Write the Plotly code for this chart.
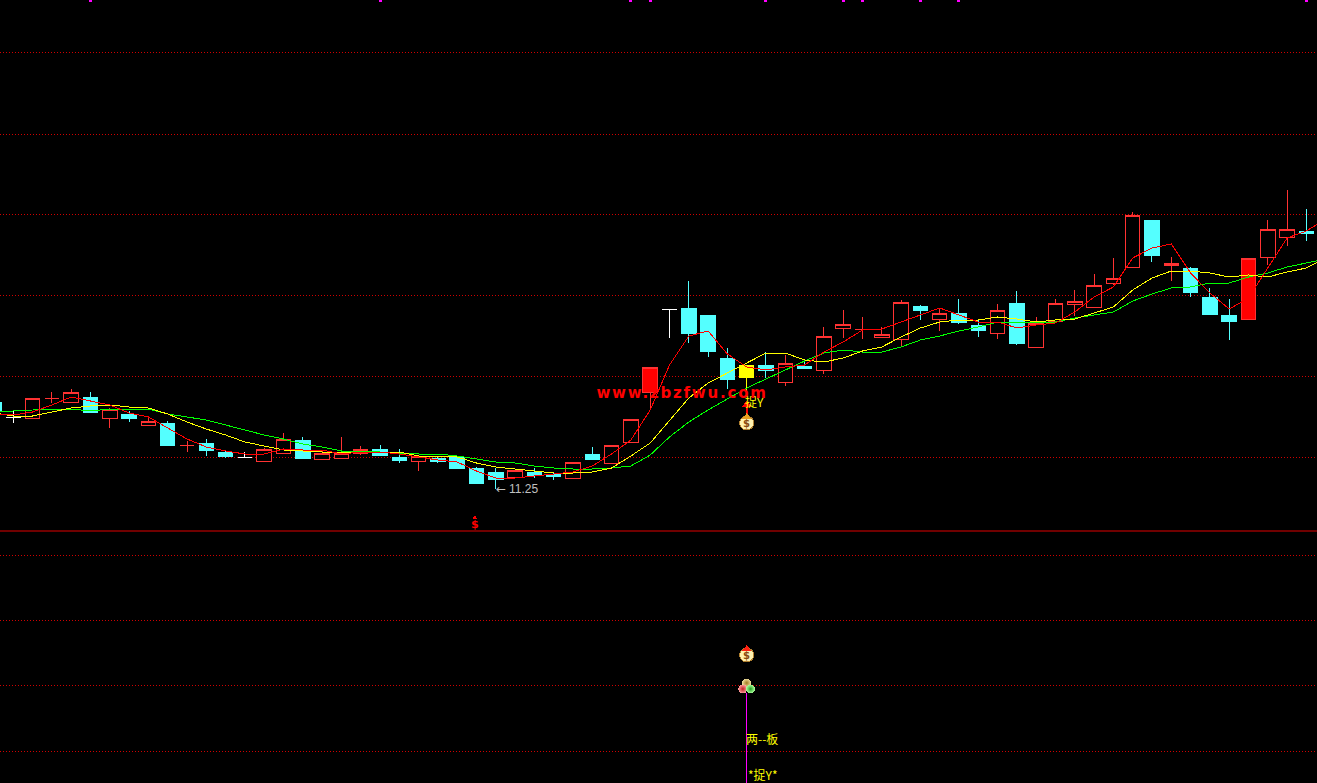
import plotly.graph_objects as go

opens = [12.99,12.69,12.67,13.07,12.99,13.09,12.67,12.75,12.53,12.57,
         12.13,12.17,11.99,11.89,11.81,11.97,12.23,11.85,11.87,11.97,
         12.05,11.89,11.81,11.87,11.89,11.67,11.59,11.49,11.59,11.55,
         11.47,11.95,11.77,12.19,13.19,14.85,14.87,14.73,13.87,13.73,
         13.73,13.39,13.71,13.63,14.47,14.45,14.29,14.25,14.91,14.65,
         14.77,14.53,14.37,14.97,14.09,14.61,14.95,14.89,15.37,15.69,
         16.63,15.73,15.67,15.09,14.73,14.65,15.89,16.29,16.41]
closes = [12.83,12.69,13.07,13.07,13.19,12.79,12.85,12.67,12.61,12.13,
          12.13,12.03,11.91,11.89,12.05,12.25,11.87,11.97,11.97,12.05,
          11.93,11.83,11.91,11.81,11.67,11.37,11.45,11.63,11.53,11.51,
          11.79,11.85,12.13,12.65,13.69,14.85,14.37,14.01,13.45,13.49,
          13.63,13.77,13.67,14.31,14.55,14.45,14.35,14.99,14.83,14.77,
          14.59,14.43,14.83,14.17,14.57,14.97,15.01,15.33,15.47,16.73,
          15.93,15.77,15.19,14.75,14.61,15.87,16.45,16.45,16.37]
highs = [12.99,12.81,13.07,13.19,13.25,13.19,12.87,12.81,12.69,12.61,
         12.21,12.25,12.03,11.99,12.07,12.37,12.29,12.03,12.29,12.11,
         12.13,12.05,11.93,11.91,11.91,11.69,11.67,11.65,11.67,11.59,
         11.79,12.09,12.13,12.65,13.69,14.85,15.41,14.73,14.07,13.73,
         13.99,13.93,13.85,14.49,14.83,14.69,14.49,15.03,14.93,14.87,
         15.05,14.65,14.95,15.21,14.69,15.05,15.23,15.55,15.87,16.79,
         16.63,15.89,15.69,15.27,15.05,15.87,16.63,17.23,16.85]
lows = [12.83,12.57,12.67,12.97,12.97,12.79,12.47,12.59,12.53,12.11,
        11.99,11.91,11.87,11.87,11.79,11.97,11.87,11.85,11.85,11.93,
        11.91,11.77,11.61,11.77,11.67,11.35,11.25,11.47,11.47,11.43,
        11.47,11.83,11.77,12.19,12.83,14.27,14.17,13.89,13.25,13.09,
        13.47,13.31,13.65,13.55,14.27,14.25,14.27,14.09,14.63,14.41,
        14.55,14.29,14.25,14.13,14.07,14.61,14.71,14.87,15.33,15.67,
        15.79,15.41,15.09,14.73,14.23,14.65,15.73,16.11,16.21]
white_days = [1, 13, 35]
solid_red_days = [34, 65]
yellow_days = [39]

ma_short = [12.75,12.73,12.79,12.93,13.09,13.01,12.93,12.77,12.69,12.47,
            12.25,12.09,12.01,11.95,11.95,12.05,12.03,12.03,11.95,11.99,
            11.99,11.95,11.89,11.83,11.79,11.61,11.47,11.47,11.51,11.55,
            11.59,11.71,11.95,12.23,12.83,13.73,14.31,14.41,13.95,13.69,
            13.63,13.69,13.73,13.99,14.19,14.43,14.45,14.59,14.73,14.87,
            14.73,14.59,14.59,14.47,14.53,14.57,14.79,15.09,15.29,15.87,
            16.07,16.15,15.57,15.17,14.85,15.07,15.67,16.27,16.41,16.65]
ma_mid = [12.77,12.71,12.71,12.79,12.87,12.91,12.93,12.89,12.87,12.75,
          12.59,12.45,12.33,12.19,12.11,12.03,12.01,11.99,11.99,11.99,
          11.99,11.99,11.91,11.91,11.89,11.77,11.69,11.65,11.61,11.57,
          11.57,11.59,11.67,11.91,12.17,12.63,13.07,13.37,13.57,13.77,
          13.97,13.97,13.83,13.79,13.87,14.01,14.09,14.29,14.47,14.59,
          14.63,14.63,14.69,14.65,14.59,14.63,14.65,14.77,14.89,15.23,
          15.47,15.61,15.61,15.57,15.49,15.53,15.49,15.59,15.67,15.87]
ma_long = [12.79,12.81,12.83,12.85,12.85,12.81,12.85,12.85,12.85,12.75,
           12.69,12.63,12.53,12.43,12.33,12.25,12.15,12.09,12.01,12.01,
           11.99,11.97,11.95,11.95,11.91,11.85,11.79,11.77,11.71,11.67,
           11.65,11.65,11.67,11.71,11.93,12.29,12.59,12.83,13.05,13.27,
           13.45,13.63,13.81,13.97,14.03,13.99,13.99,14.09,14.23,14.31,
           14.41,14.49,14.59,14.59,14.59,14.59,14.67,14.73,14.79,15.01,
           15.15,15.27,15.29,15.37,15.37,15.49,15.57,15.69,15.77,15.85]

grid_levels = [19.98,18.35,16.74,15.12,13.50,11.88,9.93,8.63,7.33,6.01]
support_level = 10.41
top_flag_days = [5,20,33,34,40,44,45,48,50,68]
signal_day = 39
dollar_day = 25
low_day = 26
low_value_label = "11.25"
site_label = "www.zbzfwu.com"

assert len({len(opens), len(closes), len(highs), len(lows)}) == 1
days = list(range(len(opens)))
special = set(white_days) | set(solid_red_days) | set(yellow_days)


def candles(idx, line, fill):
    return go.Candlestick(
        x=idx,
        open=[opens[i] for i in idx], high=[highs[i] for i in idx],
        low=[lows[i] for i in idx], close=[closes[i] for i in idx],
        increasing=dict(line=dict(color=line, width=1), fillcolor=fill),
        decreasing=dict(line=dict(color=line, width=1), fillcolor=fill),
        whiskerwidth=0, showlegend=False, hoverinfo="skip",
    )


RED, CYAN = "#ff3232", "#54ffff"
fig = go.Figure()
fig.add_trace(candles([i for i in days if i not in special and closes[i] >= opens[i]], RED, "#000000"))
fig.add_trace(candles([i for i in days if i not in special and closes[i] < opens[i]], CYAN, CYAN))
fig.add_trace(candles(white_days, "#ffffff", "#ffffff"))
fig.add_trace(candles(solid_red_days, RED, "#ff0000"))
fig.add_trace(candles(yellow_days, "#ffff00", "#ffff00"))

ma_days = list(range(len(ma_short)))
for vals, col in [(ma_long, "#00ff00"), (ma_mid, "#ffff00"), (ma_short, "#ff0000")]:
    fig.add_trace(go.Scatter(x=ma_days, y=vals, mode="lines", line=dict(color=col, width=1),
                             showlegend=False, hoverinfo="skip"))

# signal column at the bottom
fig.add_trace(go.Scatter(x=[signal_day, signal_day], y=[7.17, 5.37], mode="lines",
                         line=dict(color="#ff00ff", width=1.5), showlegend=False, hoverinfo="skip"))
# arrow stem above the first money bag
fig.add_trace(go.Scatter(x=[signal_day, signal_day], y=[12.89, 12.73], mode="lines",
                         line=dict(color="#ff0000", width=2), showlegend=False, hoverinfo="skip"))
fig.add_trace(go.Scatter(x=[signal_day], y=[12.93], mode="markers",
                         marker=dict(symbol="triangle-up", size=9, color="#ff0000"),
                         showlegend=False, hoverinfo="skip"))
# money bags
for neck, body in [(12.69, 12.57), (8.05, 7.93)]:
    fig.add_trace(go.Scatter(x=[signal_day], y=[body], mode="markers",
                             marker=dict(symbol="circle", size=14, color="#fff2b0",
                                         line=dict(color="#b08030", width=1)),
                             showlegend=False, hoverinfo="skip"))
    fig.add_trace(go.Scatter(x=[signal_day], y=[neck], mode="markers",
                             marker=dict(symbol="triangle-up", size=8,
                                         color="#e8a020" if neck > 10 else "#ff2010"),
                             showlegend=False, hoverinfo="skip"))
    fig.add_annotation(x=signal_day, y=body, text="<b>$</b>", showarrow=False,
                       font=dict(family="DejaVu Sans", size=10, color="#8a4a10"))
# three coloured balls
for dx, price, core, rim in [(0, 7.37, "#f0e0a0", "#a07a20"),
                             (-0.2, 7.25, "#ffa0a0", "#c02020"),
                             (0.2, 7.25, "#b0ffa0", "#20a020")]:
    fig.add_trace(go.Scatter(x=[signal_day + dx], y=[price], mode="markers",
                             marker=dict(symbol="circle", size=9, color=core,
                                         gradient=dict(type="radial", color=rim)),
                             showlegend=False, hoverinfo="skip"))
# red dollar sign on the support line
fig.add_trace(go.Scatter(x=[dollar_day - 0.08], y=[10.67], mode="markers",
                         marker=dict(symbol="triangle-up", size=5, color="#ff0000"),
                         showlegend=False, hoverinfo="skip"))
# magenta flags at the top edge
fig.add_trace(go.Scatter(x=top_flag_days, y=[21.03] * len(top_flag_days), mode="markers",
                         marker=dict(symbol="square", size=3, color="#ff00ff"),
                         cliponaxis=True, showlegend=False, hoverinfo="skip"))

fig.add_hline(y=support_level, line=dict(color="#e00000", width=1), layer="above")

CJK = "Noto Sans CJK SC"
notes = [
    (dollar_day - 0.08, 10.55, "<b>$</b>", "center", "DejaVu Sans", 11, "#ff0000"),
    (low_day, lows[low_day], "←", "left", "DejaVu Sans", 12, "#c0c0c0"),
    (low_day + 0.67, lows[low_day], low_value_label, "left", "Liberation Sans", 12, "#c0c0c0"),
    (signal_day - 0.1, 13.0, "捉Y", "left", CJK, 12, "#ffff00"),
    (signal_day - 0.03, 6.27, "两--板", "left", CJK, 12, "#ffff00"),
    (signal_day + 0.05, 5.55, "*捉Y*", "left", CJK, 12, "#ffff00"),
    (35.67, 13.17, "<b>%s</b>" % site_label, "center", "DejaVu Sans", 15, "#ff0000"),
]
for x, y, txt, anchor, fam, size, col in notes:
    fig.add_annotation(x=x, y=y, text=txt, showarrow=False, xanchor=anchor, borderpad=0, borderwidth=0,
                       font=dict(family=fam, size=size, color=col))

fig.update_layout(
    width=1317, height=783, margin=dict(l=0, r=0, t=0, b=0, pad=0),
    paper_bgcolor="#000000", plot_bgcolor="#000000",
    boxmode="overlay", boxgap=0.25, boxgroupgap=0, showlegend=False,
    xaxis=dict(range=[0.3109, 68.55], showgrid=False, zeroline=False, showticklabels=False,
               ticks="", showline=False, rangeslider=dict(visible=False)),
    yaxis=dict(range=[5.37, 21.03], tickvals=grid_levels, showgrid=True, griddash="1px,2px",
               gridcolor="#d00000", gridwidth=1, zeroline=False, showticklabels=False,
               ticks="", showline=False),
)
post = ("document.body.style.margin='0';document.body.style.overflow='hidden';"
        "var s=document.createElement('style');"
        "s.textContent='svg .cartesianlayer path{shape-rendering:crispEdges}"
        " text.annotation-text[data-unformatted*=\"zbzfwu\"]{letter-spacing:1.8px}';"
        "document.head.appendChild(s);")
fig.write_html("out.html", config=dict(displayModeBar=False), post_script=post)
